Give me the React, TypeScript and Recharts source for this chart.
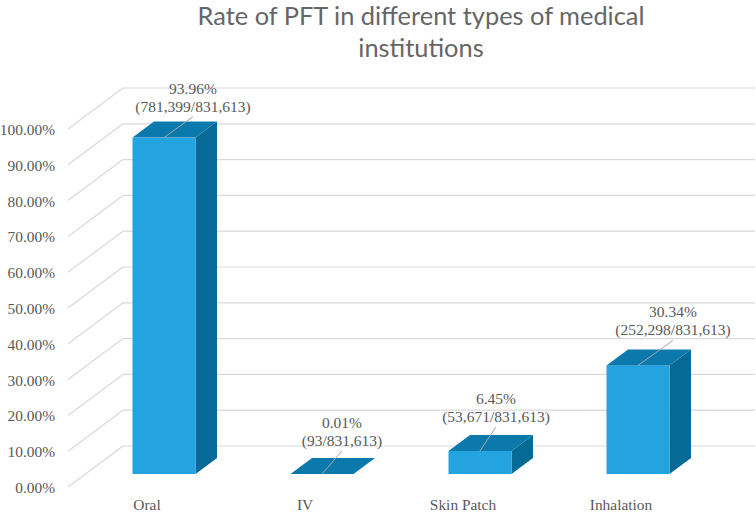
import { BarChart, Bar, XAxis, YAxis, CartesianGrid, LabelList } from "recharts"

const categories = ["Oral", "IV", "Skin Patch", "Inhalation"]
const rates = [93.96, 0.01, 6.45, 30.34]
const counts = ["(781,399/831,613)", "(93/831,613)", "(53,671/831,613)", "(252,298/831,613)"]
const yTicks = [0, 10, 20, 30, 40, 50, 60, 70, 80, 90, 100]

const chartData = categories.map((name, i) => ({ name, rate: rates[i], count: counts[i] }))

// 3D look: how far the depth of a bar and the back wall are shifted
const DEPTH_X = 21.5
const DEPTH_Y = 16
const WALL_Y = -28
const FRONT_Y = 13
const WALL_LEFT = 123
const FRONT_LEFT = 68
const WALL_RIGHT = 755

// where each label sits, relative to the middle of the bar's top edge
const labelShift = [
  { dx: 29, dy: -21 },
  { dx: 20, dy: -23 },
  { dx: 16, dy: -24 },
  { dx: 35, dy: -25 },
]

const TEXT = "#595959"
const SERIF = "'Liberation Serif', serif"

function WallLine(props: any) {
  const y = props.y1
  return (
    <g key={props.key}>
      <line x1={FRONT_LEFT} y1={y + FRONT_Y} x2={WALL_LEFT} y2={y + WALL_Y} stroke="#d9d9d9" strokeWidth={1.2} />
      <line x1={WALL_LEFT} y1={y + WALL_Y} x2={WALL_RIGHT} y2={y + WALL_Y} stroke="#d9d9d9" strokeWidth={1.2} />
    </g>
  )
}

function YTick({ y, payload }: any) {
  return (
    <text x={55} y={y + FRONT_Y + 6} textAnchor="end" fontSize={15.4} fontFamily={SERIF} fill={TEXT}>
      {payload.value.toFixed(2)}%
    </text>
  )
}

function XTick({ x, y, payload }: any) {
  return (
    <text x={x - 17} y={y + 28} textAnchor="middle" fontSize={15.4} fontFamily={SERIF} fill={TEXT}>
      {payload.value}
    </text>
  )
}

function Bar3D({ x, y, width, height }: any) {
  const right = x + width
  const bottom = y + height
  return (
    <g>
      <polygon
        points={`${right},${y} ${right + DEPTH_X},${y - DEPTH_Y} ${right + DEPTH_X},${bottom - DEPTH_Y} ${right},${bottom}`}
        fill="#056a96"
      />
      <rect x={x} y={y} width={width} height={height} fill="#23a3e0" />
      <polygon
        points={`${x},${y} ${x + DEPTH_X},${y - DEPTH_Y} ${right + DEPTH_X},${y - DEPTH_Y} ${right},${y}`}
        fill="#0c79ad"
      />
    </g>
  )
}

function BarLabel({ x, y, width, index }: any) {
  const cx = x + width / 2
  const { dx, dy } = labelShift[index]
  return (
    <g fontFamily={SERIF} fontSize={15.5} fill={TEXT} textAnchor="middle">
      <line x1={cx} y1={y} x2={cx + dx} y2={y + dy} stroke="#a6a6a6" strokeWidth={1} />
      <text x={cx + dx} y={y + dy - 23}>{rates[index].toFixed(2)}%</text>
      <text x={cx + dx} y={y + dy - 5}>{counts[index]}</text>
    </g>
  )
}

export default function App() {
  return (
    <div style={{ position: "absolute", left: 0, top: 0, width: 756, height: 512, background: "#fff" }}>
      <BarChart
        width={756}
        height={512}
        data={chartData}
        barCategoryGap={47.5}
        margin={{ top: 116, right: 39, bottom: 8, left: 0 }}
      >
        <text x={421} y={25} textAnchor="middle" fontSize={25.4} fontFamily="Lato, sans-serif" fill="#666666">
          Rate of PFT in different types of medical
        </text>
        <text x={421} y={57} textAnchor="middle" fontSize={25.4} fontFamily="Lato, sans-serif" fill="#666666">
          institutions
        </text>
        <CartesianGrid horizontal={WallLine} vertical={false} />
        <XAxis dataKey="name" axisLine={false} tickLine={false} tick={<XTick />} />
        <YAxis width={85} domain={[0, 100]} ticks={yTicks} interval={0} axisLine={false} tickLine={false} tick={<YTick />} />
        <Bar dataKey="rate" shape={<Bar3D />} isAnimationActive={false}>
          <LabelList dataKey="rate" content={<BarLabel />} />
        </Bar>
      </BarChart>
    </div>
  )
}
